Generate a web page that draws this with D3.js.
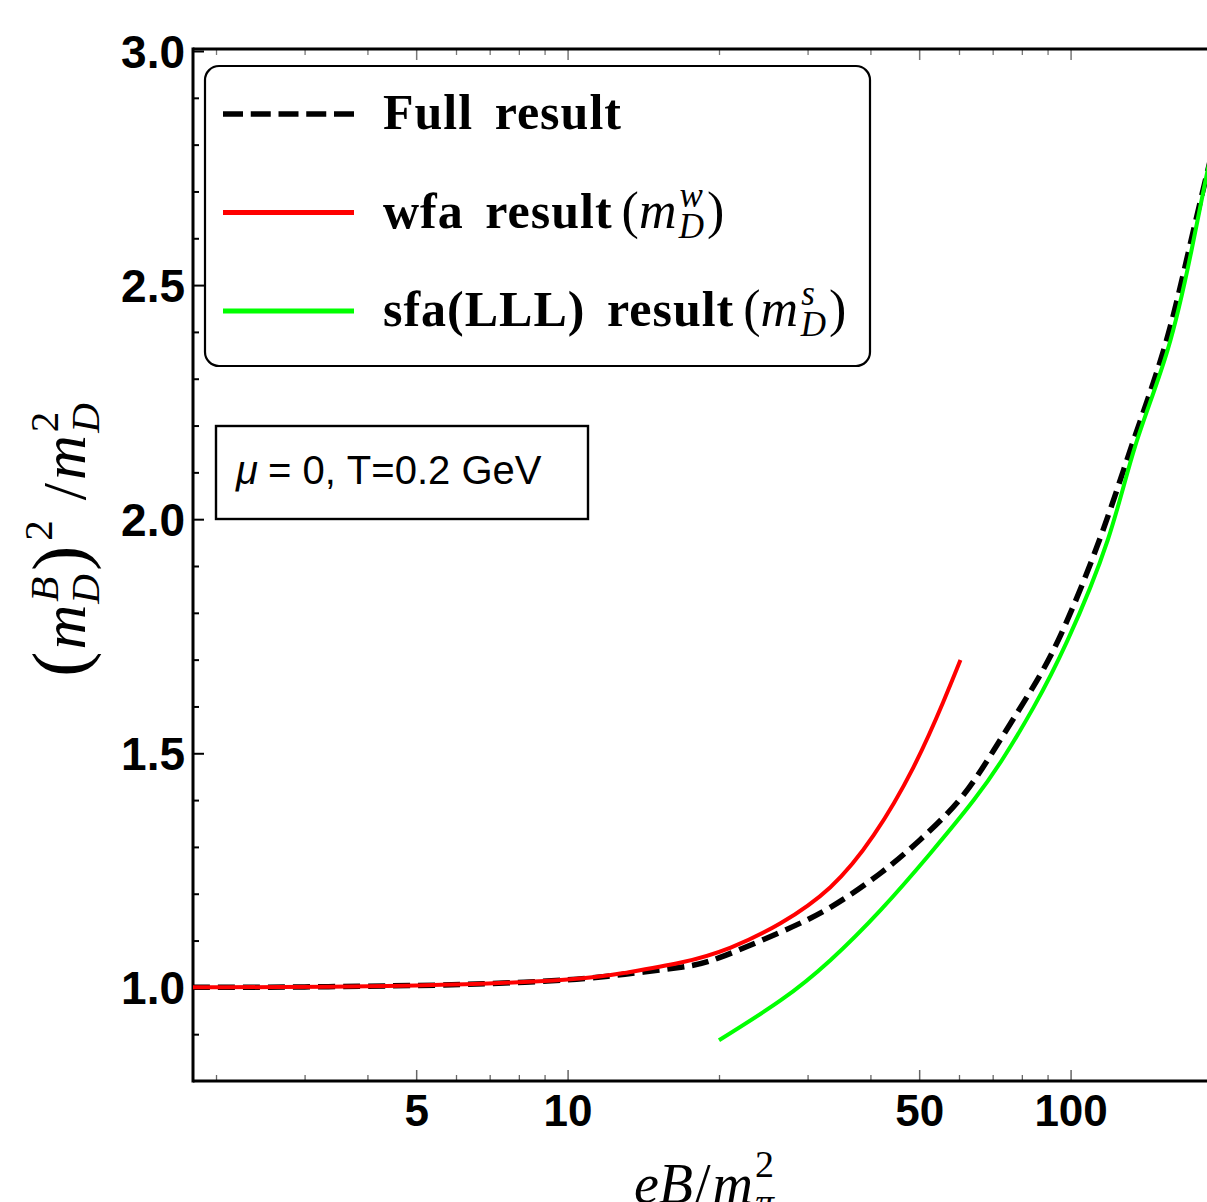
<!DOCTYPE html>
<html>
<head>
<meta charset="utf-8">
<script src="https://cdn.jsdelivr.net/npm/d3@7"></script>
<style>
  html, body { margin: 0; padding: 0; background: #fff; }
  svg { display: block; }
</style>
</head>
<body>
<svg id="chart" width="1207" height="1202"></svg>
<script>
// ---------------- data ----------------
const fullX = [1.8, 3, 5, 7, 10, 13, 16.8, 20.1, 26.5, 33.3, 41.9, 50.3, 60.4, 70.3, 82.1, 95.5, 114.7, 132.8, 153.8, 171.7, 187.3, 200];
const fullY = [1.0, 1.001, 1.004, 1.008, 1.016, 1.028, 1.043, 1.064, 1.118, 1.171, 1.244, 1.316, 1.403, 1.506, 1.622, 1.752, 1.962, 2.162, 2.368, 2.573, 2.744, 2.87];

const wfaX = [1.8, 5, 10, 13, 16.8, 21.1, 26.5, 33.3, 40.6, 48.7, 55.8, 60.4];
const wfaY = [1.0, 1.004, 1.017, 1.031, 1.053, 1.085, 1.137, 1.214, 1.325, 1.470, 1.609, 1.699];

const sfaX = [20, 26.5, 33.3, 41.9, 52.6, 64.2, 73.6, 84.4, 98.6, 118.5, 134.6, 155.9, 174, 187.3, 200];
const sfaY = [0.887, 0.972, 1.058, 1.165, 1.286, 1.40, 1.491, 1.598, 1.741, 1.955, 2.158, 2.361, 2.575, 2.746, 2.89];

const xMajorTicks = [5, 10, 50, 100];
const xMinorTicks = [2, 3, 4, 6, 7, 8, 9, 20, 30, 40, 60, 70, 80, 90, 200];
const yMajorTicks = [1.0, 1.5, 2.0, 2.5, 3.0];
const yMinorTicks = [0.9, 1.1, 1.2, 1.3, 1.4, 1.6, 1.7, 1.8, 1.9, 2.1, 2.2, 2.3, 2.4, 2.6, 2.7, 2.8, 2.9];

const legendItems = [
  {label: "Full result", sup: null, color: "#000", dash: true},
  {label: "wfa result", sup: "w", color: "#ff0000", dash: false},
  {label: "sfa(LLL) result", sup: "s", color: "#00ff00", dash: false}
];
const annotation = "= 0, T=0.2 GeV";

// ---------------- layout ----------------
const svg = d3.select("#chart");
const pL = 193, pR = 1222, pT = 51, pB = 1081;

const x = d3.scaleLog().domain([1.8, 200]).range([pL, pR]);
const y = d3.scaleLinear().domain([0.8, 3.0]).range([pB, pT]);

const sansBold = "'Liberation Sans', Arial, Helvetica, sans-serif";
const serif = "'Liberation Serif', 'Times New Roman', serif";

svg.append("defs").append("clipPath").attr("id", "clip")
  .append("rect").attr("x", pL).attr("y", pT - 2).attr("width", pR - pL).attr("height", pB - pT + 2);

// ---------------- axes (ticks inward) ----------------
function styleAxis(g, color, width) {
  g.select(".domain").remove();
  g.selectAll(".tick line").attr("stroke", color).attr("stroke-width", width);
}

// bottom
svg.append("g").attr("transform", `translate(0,${pB})`)
  .call(d3.axisBottom(x).tickValues(xMinorTicks).tickSize(-6).tickFormat(""))
  .call(g => styleAxis(g, "#666", 1.3));
const xb = svg.append("g").attr("transform", `translate(0,${pB})`)
  .call(d3.axisBottom(x).tickValues(xMajorTicks).tickSize(-11).tickFormat(d3.format("d")))
  .call(g => styleAxis(g, "#666", 1.5));
xb.selectAll(".tick text").attr("font-family", sansBold).attr("font-weight", "bold")
  .attr("font-size", 44).attr("fill", "#000").attr("dy", "0.71em").attr("y", 14);

// top
svg.append("g").attr("transform", `translate(0,${pT - 2})`)
  .call(d3.axisTop(x).tickValues(xMinorTicks).tickSize(-6).tickFormat(""))
  .call(g => styleAxis(g, "#777", 1.3));
svg.append("g").attr("transform", `translate(0,${pT - 2})`)
  .call(d3.axisTop(x).tickValues(xMajorTicks).tickSize(-11).tickFormat(""))
  .call(g => styleAxis(g, "#777", 1.5));

// left
svg.append("g").attr("transform", `translate(${pL},0)`)
  .call(d3.axisLeft(y).tickValues(yMinorTicks).tickSize(-6).tickFormat(""))
  .call(g => styleAxis(g, "#000", 2));
const yl = svg.append("g").attr("transform", `translate(${pL},0)`)
  .call(d3.axisLeft(y).tickValues(yMajorTicks).tickSize(-11).tickFormat(d3.format(".1f")))
  .call(g => styleAxis(g, "#000", 2));
yl.selectAll(".tick text").attr("font-family", sansBold).attr("font-weight", "bold")
  .attr("font-size", 46).attr("fill", "#000").attr("x", -8).attr("dy", "0.36em");

// frame
svg.append("line").attr("x1", pL).attr("x2", 1207).attr("y1", pB).attr("y2", pB)
  .attr("stroke", "#000").attr("stroke-width", 3);
svg.append("line").attr("x1", pL).attr("x2", 1207).attr("y1", pT - 2).attr("y2", pT - 2)
  .attr("stroke", "#000").attr("stroke-width", 3);
svg.append("line").attr("x1", pL).attr("x2", pL).attr("y1", pT - 3.5).attr("y2", pB + 1.5)
  .attr("stroke", "#000").attr("stroke-width", 3);

// ---------------- curves ----------------
const line = d3.line().x(d => x(d[0])).y(d => y(d[1])).curve(d3.curveNatural);
const plot = svg.append("g").attr("clip-path", "url(#clip)");

plot.append("path").datum(d3.zip(fullX, fullY)).attr("d", line)
  .attr("fill", "none").attr("stroke", "#000").attr("stroke-width", 5.5).attr("stroke-dasharray", "17,8");
plot.append("path").datum(d3.zip(wfaX, wfaY)).attr("d", line)
  .attr("fill", "none").attr("stroke", "#ff0000").attr("stroke-width", 4);
plot.append("path").datum(d3.zip(sfaX, sfaY)).attr("d", line)
  .attr("fill", "none").attr("stroke", "#00ff00").attr("stroke-width", 4);

// ---------------- legend ----------------
const lg = svg.append("g");
lg.append("rect").attr("x", 205).attr("y", 66).attr("width", 665).attr("height", 300).attr("rx", 14)
  .attr("fill", "#fff").attr("stroke", "#000").attr("stroke-width", 2.2);

legendItems.forEach((it, i) => {
  const ly = 114 + i * 98.5;
  lg.append("line").attr("x1", 223).attr("x2", 354).attr("y1", ly).attr("y2", ly)
    .attr("stroke", it.color).attr("stroke-width", it.dash ? 5.5 : 5)
    .attr("stroke-dasharray", it.dash ? "20,7.75" : null);
  const t = lg.append("text").attr("x", 383).attr("y", ly + 15)
    .attr("font-family", serif).attr("font-size", 50).attr("fill", "#000");
  t.append("tspan").attr("font-weight", "bold").attr("letter-spacing", 1).attr("word-spacing", 8).text(it.label);
  if (it.sup) {
    t.append("tspan").attr("dx", 9).attr("font-size", 52).text("(");
    t.append("tspan").attr("font-style", "italic").attr("font-size", 52).text("m");
    t.append("tspan").attr("font-style", "italic").attr("font-size", 35).attr("dy", -21).attr("dx", 3).text(it.sup);
    t.append("tspan").attr("font-style", "italic").attr("font-size", 35).attr("dy", 31).attr("dx", it.sup === "w" ? -24 : -14).text("D");
    t.append("tspan").attr("font-size", 52).attr("dy", -10).attr("dx", 3).text(")");
  }
});

// ---------------- annotation ----------------
svg.append("rect").attr("x", 216).attr("y", 426).attr("width", 372).attr("height", 93)
  .attr("fill", "#fff").attr("stroke", "#000").attr("stroke-width", 2.4);
const at = svg.append("text").attr("x", 236).attr("y", 484)
  .attr("font-family", "'Liberation Sans', Arial, sans-serif").attr("font-size", 40).attr("fill", "#000");
at.append("tspan").attr("font-style", "italic").text("μ");
at.append("tspan").attr("dx", 10).text(annotation);

// ---------------- axis labels ----------------
const ylab = svg.append("text").attr("transform", "translate(85,540) rotate(-90)")
  .attr("text-anchor", "middle").attr("font-family", serif).attr("font-size", 62).attr("fill", "#000");
ylab.append("tspan").attr("font-size", 76).text("(");
ylab.append("tspan").attr("font-style", "italic").attr("dx", 2).text("m");
ylab.append("tspan").attr("font-style", "italic").attr("font-size", 41).attr("dy", -27).attr("dx", 3).text("B");
ylab.append("tspan").attr("font-style", "italic").attr("font-size", 41).attr("dy", 41).attr("dx", -27).text("D");
ylab.append("tspan").attr("font-size", 76).attr("dy", -14).attr("dx", 3).text(")");
ylab.append("tspan").attr("font-size", 41).attr("dy", -33).attr("dx", 5).text("2");
ylab.append("tspan").attr("dy", 33).attr("dx", 20).text("/");
ylab.append("tspan").attr("font-style", "italic").attr("dx", 3).text("m");
ylab.append("tspan").attr("font-size", 41).attr("dy", -27).attr("dx", 3).text("2");
ylab.append("tspan").attr("font-style", "italic").attr("font-size", 41).attr("dy", 41).attr("dx", -21).text("D");

const xlab = svg.append("text").attr("x", 704).attr("y", 1203)
  .attr("text-anchor", "middle").attr("font-family", serif).attr("font-size", 56).attr("fill", "#000");
xlab.append("tspan").attr("font-style", "italic").text("eB");
xlab.append("tspan").attr("dx", 2).text("/");
xlab.append("tspan").attr("font-style", "italic").attr("dx", 2).text("m");
xlab.append("tspan").attr("font-size", 38).attr("dy", -26).attr("dx", 2).text("2");
xlab.append("tspan").attr("font-style", "italic").attr("font-size", 38).attr("dy", 38).attr("dx", -19).text("π");
</script>
</body>
</html>
